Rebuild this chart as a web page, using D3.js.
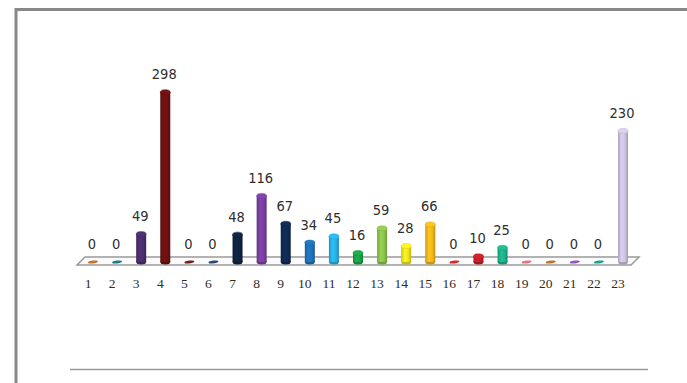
<!DOCTYPE html>
<html>
<head>
<meta charset="utf-8">
<script src="https://d3js.org/d3.v7.min.js"></script>
<style>
  body { margin: 0; background: #fff; }
  svg { display: block; }
</style>
</head>
<body>
<svg width="687" height="383"></svg>
<script>
// chart data
var categories = ["1","2","3","4","5","6","7","8","9","10","11","12","13","14","15","16","17","18","19","20","21","22","23"];
var values = [0, 0, 49, 298, 0, 0, 48, 116, 67, 34, 45, 16, 59, 28, 66, 0, 10, 25, 0, 0, 0, 0, 230];
var colors = ["#c8702a","#1e7b85","#4b2e6e","#6e1111","#7a1c1c","#274a7a","#0e2340","#7b3fa3",
              "#0f2a55","#1f72b8","#28b2e6","#1aa34a","#8cc44c","#efe61c","#f4b81a","#e42323",
              "#c7202a","#1eb38a","#e8727e","#c8702a","#9452c0","#10a88a","#cec3e2"];

var data = categories.map(function(c, i) { return {cat: c, value: values[i], color: colors[i]}; });

var svg = d3.select("svg");

var x = d3.scalePoint()
    .domain(categories)
    .range([93, 623]);

var y = d3.scaleLinear()
    .domain([0, 300])
    .range([262, 91]);

var barW = 10, ry = 2.5;

// frame
svg.append("line").attr("x1", 16).attr("x2", 16).attr("y1", 8).attr("y2", 383)
    .attr("stroke", "#888").attr("stroke-width", 3);
svg.append("line").attr("x1", 15).attr("x2", 687).attr("y1", 9.5).attr("y2", 9.5)
    .attr("stroke", "#888").attr("stroke-width", 3);
svg.append("line").attr("x1", 70).attr("x2", 648).attr("y1", 369.5).attr("y2", 369.5)
    .attr("stroke", "#999").attr("stroke-width", 1.5);

// floor
var x0 = x(categories[0]), x1 = x(categories[categories.length - 1]);
var yBack = y(0) - 5, yFront = y(0) + 3;
svg.append("path")
    .attr("d", "M" + (x0 - 8) + "," + yBack + "L" + (x1 + 16) + "," + yBack +
               "L" + (x1 + 8) + "," + yFront + "L" + (x0 - 16) + "," + yFront + "Z")
    .attr("fill", "#fbfbfb")
    .attr("stroke", "#9a9a9a")
    .attr("stroke-width", 1.5);

// gradients
var defs = svg.append("defs");
var grad = defs.selectAll("linearGradient")
  .data(data)
  .enter().append("linearGradient")
    .attr("id", function(d, i) { return "g" + i; })
    .attr("x1", "0%").attr("x2", "100%").attr("y1", "0%").attr("y2", "0%");
grad.append("stop").attr("offset", "0%").attr("stop-color", function(d) { return d3.color(d.color).darker(0.5); });
grad.append("stop").attr("offset", "35%").attr("stop-color", function(d) { return d3.color(d.color).brighter(0.2); });
grad.append("stop").attr("offset", "70%").attr("stop-color", function(d) { return d.color; });
grad.append("stop").attr("offset", "100%").attr("stop-color", function(d) { return d3.color(d.color).darker(0.7); });

var bars = svg.append("g").selectAll("g")
  .data(data)
  .enter().append("g");

// zero markers
bars.filter(function(d) { return d.value === 0; })
  .append("ellipse")
    .attr("cx", function(d) { return x(d.cat); })
    .attr("cy", y(0))
    .attr("rx", 5)
    .attr("ry", 1.4)
    .attr("transform", function(d) { return "rotate(-8," + x(d.cat) + "," + y(0) + ")"; })
    .attr("fill", function(d) { return d.color; });

var cyl = bars.filter(function(d) { return d.value > 0; });

cyl.append("ellipse")
    .attr("cx", function(d) { return x(d.cat); })
    .attr("cy", y(0))
    .attr("rx", barW / 2)
    .attr("ry", ry)
    .attr("fill", function(d) { return d3.color(d.color).darker(0.6); });

cyl.append("rect")
    .attr("x", function(d) { return x(d.cat) - barW / 2; })
    .attr("y", function(d) { return y(d.value); })
    .attr("width", barW)
    .attr("height", function(d) { return y(0) - y(d.value); })
    .attr("fill", function(d) { return "url(#g" + data.indexOf(d) + ")"; });

cyl.append("ellipse")
    .attr("cx", function(d) { return x(d.cat); })
    .attr("cy", function(d) { return y(d.value); })
    .attr("rx", barW / 2)
    .attr("ry", ry)
    .attr("fill", function(d) { return d3.color(d.color).brighter(0.2); })
    .attr("stroke", function(d) { return d3.color(d.color).darker(0.3); })
    .attr("stroke-width", 0.5);

// value labels
svg.append("g").selectAll("text")
  .data(data)
  .enter().append("text")
    .attr("x", function(d) { return x(d.cat) - 1; })
    .attr("y", function(d) { return y(d.value) - 13; })
    .attr("text-anchor", "middle")
    .attr("font-family", "'Liberation Sans Narrow', 'DejaVu Sans Condensed', sans-serif")
    .attr("font-size", 14.5)
    .attr("fill", "#2e2e2e")
    .text(function(d) { return d.value; });

// category labels
svg.append("g").selectAll("text")
  .data(categories)
  .enter().append("text")
    .attr("x", function(d) { return x(d) - 5; })
    .attr("y", 288)
    .attr("text-anchor", "middle")
    .attr("font-family", "'Liberation Serif', 'DejaVu Serif', serif")
    .attr("font-size", 13.5)
    .attr("fill", "#2e2e1e")
    .text(function(d) { return d; });
</script>
</body>
</html>
